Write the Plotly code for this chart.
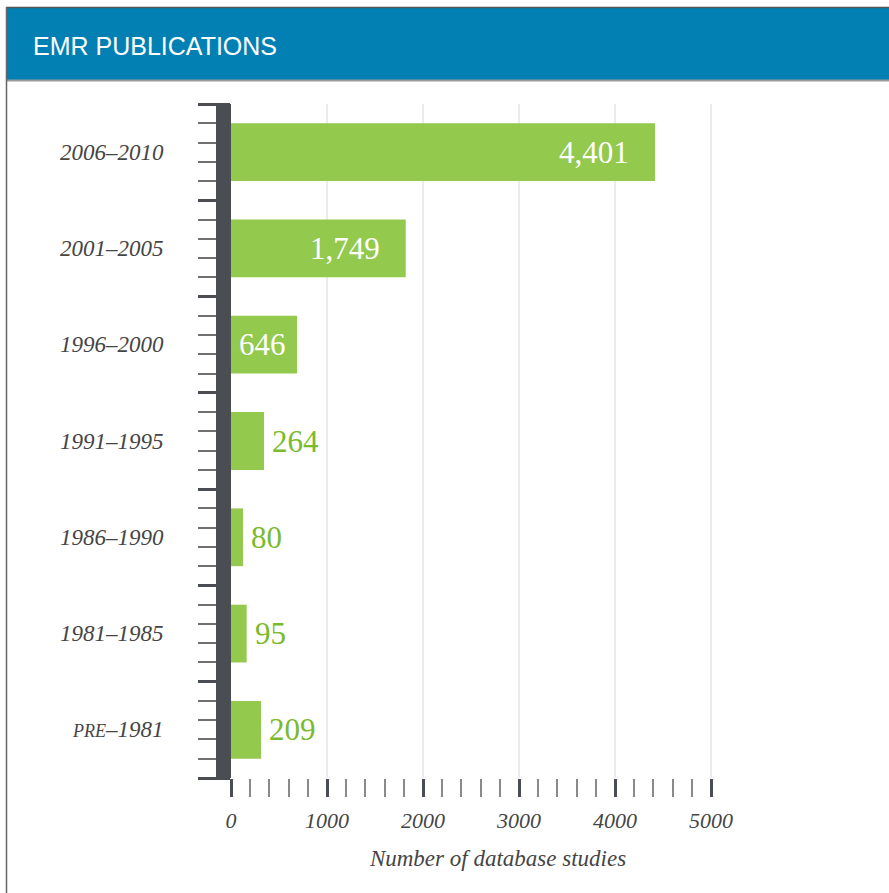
import plotly.graph_objects as go

# ---------------- data ----------------
title_text = "EMR PUBLICATIONS"
categories = ["2006–2010", "2001–2005", "1996–2000", "1991–1995",
              "1986–1990", "1981–1985", "PRE–1981"]
value_labels = [4401, 1749, 646, 264, 80, 95, 209]
bar_lengths = [4417, 1820, 688, 344, 125, 163, 313]
x_ticks = [0, 1000, 2000, 3000, 4000, 5000]
x_title = "Number of database studies"

# ---------------- layout geometry ----------------
W, H = 889, 893
L, R, T, B = 231, 124, 104, 115
PW = W - L - R
PH = H - T - B
XMAX = PW / 0.096


def px(x):
    return (x - L) / PW


def py(y):
    return (H - B - y) / PH


GREEN = "#93c94c"
GREEN_TXT = "#7aba2c"
DARK = "#4a4d52"
TXT = "#454545"
SERIF = "Liberation Serif"

ypos = list(range(len(categories)))

fig = go.Figure()
fig.add_trace(go.Bar(
    x=bar_lengths, y=ypos, orientation="h", width=0.6,
    marker=dict(color=GREEN, line=dict(width=0)),
    hoverinfo="skip", showlegend=False,
))

annotations = []
# category labels
for i, c in enumerate(categories):
    txt = c
    if c.startswith("PRE"):
        txt = "<span style='font-size:18px'>PRE</span>" + c[3:]
    annotations.append(dict(
        x=px(166), xref="paper", y=i, yref="y", text=txt, showarrow=False,
        xanchor="right", yanchor="middle",
        font=dict(family=SERIF, size=23, color=TXT, style="italic"),
    ))

# value labels
for i, (v, bl) in enumerate(zip(value_labels, bar_lengths)):
    lab = f"{v:,}"
    if bl >= 600:
        shift = -24 if bl >= 1000 else -9
        annotations.append(dict(
            x=bl, xref="x", y=i, yref="y", text=lab, showarrow=False,
            xanchor="right", yanchor="middle", xshift=shift,
            font=dict(family=SERIF, size=31, color="white"),
        ))
    else:
        annotations.append(dict(
            x=bl, xref="x", y=i, yref="y", text=lab, showarrow=False,
            xanchor="left", yanchor="middle", xshift=6,
            font=dict(family=SERIF, size=31, color=GREEN_TXT),
        ))

# header text
annotations.append(dict(
    x=px(31), xref="paper", y=py(46), yref="paper", text=title_text,
    showarrow=False, xanchor="left", yanchor="middle",
    font=dict(family="Liberation Sans", size=25, color="white"),
))

shapes = [
    # header band
    dict(type="rect", xref="paper", yref="paper",
         x0=px(6), x1=px(900), y0=py(80), y1=py(7),
         fillcolor="#0280b4", line=dict(width=0), layer="above"),
    dict(type="line", xref="paper", yref="paper",
         x0=px(6), x1=px(900), y0=py(7.5), y1=py(7.5),
         line=dict(color="#555", width=1.5), layer="above"),
    dict(type="line", xref="paper", yref="paper",
         x0=px(6), x1=px(900), y0=py(80.5), y1=py(80.5),
         line=dict(color="#9a9a9a", width=2), layer="above"),
    # left border
    dict(type="line", xref="paper", yref="paper",
         x0=px(6.5), x1=px(6.5), y0=py(7), y1=py(900),
         line=dict(color="#666", width=1.5), layer="above"),
    # thick y-axis bar
    dict(type="rect", xref="paper", yref="paper",
         x0=px(216), x1=px(231), y0=0, y1=1,
         fillcolor=DARK, line=dict(width=0), layer="above"),
]

minor_x = list(range(x_ticks[0], x_ticks[-1] + 1, 200))

fig.update_layout(
    width=W, height=H,
    margin=dict(l=L, r=R, t=T, b=B, pad=0),
    paper_bgcolor="white", plot_bgcolor="white",
    showlegend=False,
    annotations=annotations,
    shapes=shapes,
    xaxis=dict(
        range=[0, XMAX], tickmode="array", tickvals=x_ticks,
        ticktext=[str(t) for t in x_ticks],
        showgrid=True, gridcolor="#ebebeb", gridwidth=2,
        zeroline=False, showline=False,
        ticks="outside", ticklen=18, tickwidth=3, tickcolor=DARK,
        ticklabelstandoff=5,
        minor=dict(tickmode="array", tickvals=minor_x, ticks="outside",
                   ticklen=18, tickwidth=1.5, tickcolor="#8a8a8a",
                   showgrid=False),
        tickfont=dict(family=SERIF, size=22, color=TXT, style="italic"),
        title=dict(text=x_title, standoff=17,
                   font=dict(family=SERIF, size=23, color=TXT, style="italic")),
        fixedrange=True,
    ),
    yaxis=dict(
        range=[len(categories) - 0.5, -0.5],
        tickmode="array", tickvals=[i - 0.5 for i in range(len(categories) + 1)],
        showticklabels=False,
        ticks="outside", ticklen=32, tickwidth=3, tickcolor=DARK,
        minor=dict(tickmode="linear", tick0=-0.5, dtick=0.2, ticks="outside",
                   ticklen=32, tickwidth=1.5, tickcolor="#707070",
                   showgrid=False),
        showgrid=False, zeroline=False, showline=False,
        fixedrange=True,
    ),
)

fig.write_html("out.html", config={"displayModeBar": False})
